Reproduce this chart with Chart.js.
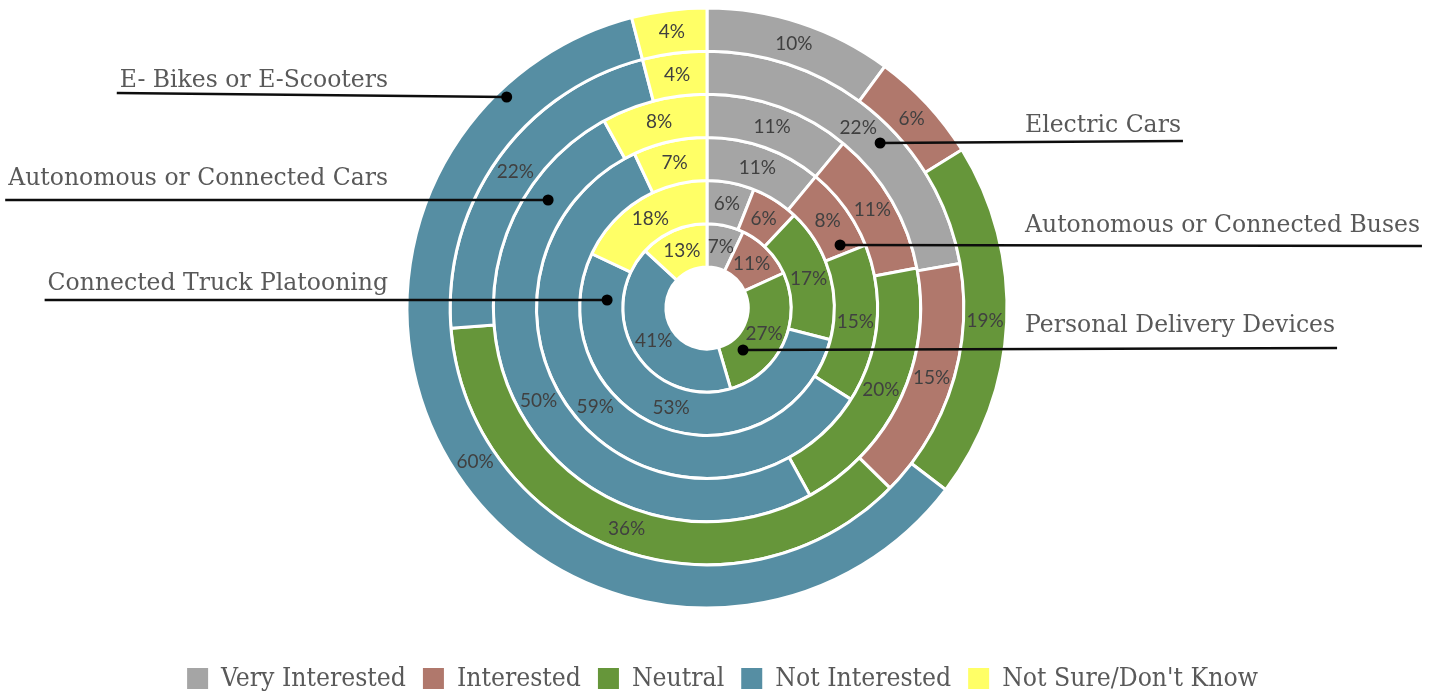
<!DOCTYPE html>
<html><head><meta charset="utf-8">
<script src="https://cdn.jsdelivr.net/npm/chart.js@4"></script>
<style>html,body{margin:0;padding:0;background:#fff}#wrap{width:1441px;height:696px}</style>
</head><body><div id="wrap"><canvas id="c" width="1441" height="696"></canvas></div>
<script>
// ---- data ----
const categories = ['Very Interested', 'Interested', 'Neutral', 'Not Interested', "Not Sure/Don't Know"];
const seriesNames = ['E- Bikes or E-Scooters', 'Electric Cars', 'Autonomous or Connected Cars',
  'Autonomous or Connected Buses', 'Connected Truck Platooning', 'Personal Delivery Devices'];
const eBikes = [10, 6, 19, 60, 4];
const electricCars = [22, 15, 36, 22, 4];
const autonomousCars = [11, 11, 20, 50, 8];
const autonomousBuses = [11, 8, 15, 59, 7];
const truckPlatooning = [6, 6, 17, 53, 18];
const deliveryDevices = [7, 11, 27, 41, 13];
const seriesValues = [eBikes, electricCars, autonomousCars, autonomousBuses, truckPlatooning, deliveryDevices];

// ---- style ----
const colors = ['#A5A5A5', '#B0786C', '#66963A', '#568EA3', '#FFFF66'];
const serifFamily = '"DejaVu Serif", serif';
const legendFamily = '"DejaVu Serif Condensed", "DejaVu Serif", serif';
const pctFamily = 'Lato, "Noto Sans", sans-serif';

const mctx = document.createElement('canvas').getContext('2d');
function fitSize(family, texts, target) {
  mctx.font = '100px ' + family;
  let w = 0; texts.forEach(t => w += mctx.measureText(t).width);
  return 100 * target / w;
}
const annotSize = fitSize(serifFamily, ['Autonomous or Connected Buses'], 395);
const legendSize = fitSize(legendFamily, categories, 833);

// annotation layout (per ring, outer to inner)
const annotLayout = [
  { side: 'left',  textX: 388,  textY: 87,  lineY: 93,  dotY: 97,  ringFrac: 0.79 },
  { side: 'right', textX: 1025, textY: 132, lineY: 141, dotY: 143, ringFrac: 0.59 },
  { side: 'left',  textX: 388,  textY: 185, lineY: 200, dotY: 200, ringFrac: 0.50 },
  { side: 'right', textX: 1025, textY: 232, lineY: 246, dotY: 245, ringFrac: 0.46 },
  { side: 'left',  textX: 388,  textY: 290, lineY: 300, dotY: 300, ringFrac: 0.37 },
  { side: 'right', textX: 1025, textY: 332, lineY: 348, dotY: 350, ringFrac: 0.33 }
];

const pctLabels = {
  id: 'pctLabels',
  afterDatasetsDraw(chart) {
    const ctx = chart.ctx;
    ctx.save();
    ctx.font = '19px ' + pctFamily;
    ctx.fillStyle = '#404040';
    ctx.textAlign = 'center';
    ctx.textBaseline = 'middle';
    chart.data.datasets.forEach((ds, i) => {
      chart.getDatasetMeta(i).data.forEach((arc, j) => {
        const p = arc.tooltipPosition();
        ctx.fillText(ds.data[j] + '%', p.x, p.y);
      });
    });
    ctx.restore();
  }
};

const annotations = {
  id: 'annotations',
  afterDraw(chart) {
    const ctx = chart.ctx;
    ctx.save();
    ctx.font = annotSize.toFixed(2) + 'px ' + serifFamily;
    annotLayout.forEach((a, i) => {
      const arc = chart.getDatasetMeta(i).data[0];
      const r = arc.innerRadius + a.ringFrac * (arc.outerRadius - arc.innerRadius);
      const dy = a.dotY - arc.y;
      const dx = Math.sqrt(Math.max(r * r - dy * dy, 0));
      const dotX = a.side === 'left' ? arc.x - dx : arc.x + dx;
      const text = chart.data.datasets[i].label;
      const w = ctx.measureText(text).width;
      ctx.fillStyle = '#595959';
      ctx.textBaseline = 'alphabetic';
      let endX;
      if (a.side === 'left') {
        ctx.textAlign = 'right';
        ctx.fillText(text, a.textX, a.textY);
        endX = a.textX - w - 3;
      } else {
        ctx.textAlign = 'left';
        ctx.fillText(text, a.textX, a.textY);
        endX = a.textX + w + 2;
      }
      ctx.strokeStyle = '#0d0d0d';
      ctx.lineWidth = 2.5;
      ctx.beginPath();
      ctx.moveTo(endX, a.lineY);
      ctx.lineTo(dotX, a.dotY);
      ctx.stroke();
      ctx.fillStyle = '#000';
      ctx.beginPath();
      ctx.arc(dotX, a.dotY, 5.5, 0, Math.PI * 2);
      ctx.fill();
    });
    ctx.restore();
  }
};

const customLegend = {
  id: 'customLegend',
  afterDraw(chart) {
    const ctx = chart.ctx;
    ctx.save();
    ctx.font = legendSize.toFixed(2) + 'px ' + legendFamily;
    const box = 21, gapText = 13, gapItem = 17;
    const widths = categories.map(t => ctx.measureText(t).width);
    let total = 0;
    widths.forEach(w => total += box + gapText + w);
    total += gapItem * (categories.length - 1);
    let x = 722.5 - total / 2;
    const top = 668;
    ctx.textBaseline = 'middle';
    ctx.textAlign = 'left';
    categories.forEach((t, i) => {
      ctx.fillStyle = colors[i];
      ctx.fillRect(x, top, box, box);
      x += box + gapText;
      ctx.fillStyle = '#595959';
      ctx.fillText(t, x, top + box / 2 + 1);
      x += widths[i] + gapItem;
    });
    ctx.restore();
  }
};

new Chart(document.getElementById('c'), {
  type: 'doughnut',
  data: {
    labels: categories,
    datasets: seriesValues.map((v, i) => ({
      label: seriesNames[i],
      data: v,
      backgroundColor: colors,
      borderColor: '#ffffff',
      borderWidth: 3,
      hoverOffset: 0,
      offset: 0
    }))
  },
  options: {
    responsive: false,
    animation: false,
    events: [],
    radius: 300,
    cutout: '13.7%',
    layout: { padding: { top: 8, left: 0, right: 27, bottom: 88 } },
    plugins: { legend: { display: false }, tooltip: { enabled: false } }
  },
  plugins: [pctLabels, annotations, customLegend]
});
</script>
</body></html>
